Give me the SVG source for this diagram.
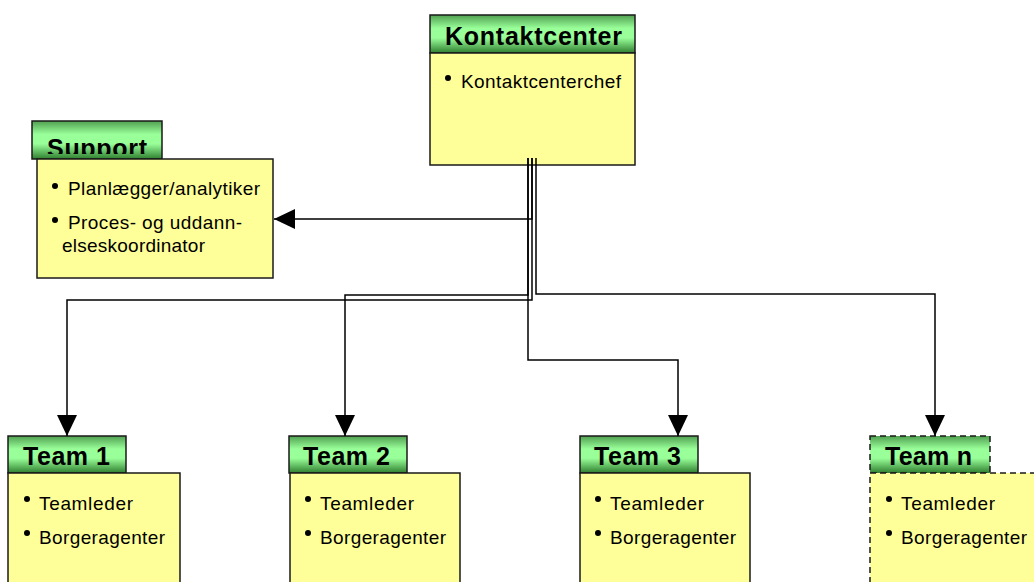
<svg xmlns="http://www.w3.org/2000/svg" width="1034" height="582" viewBox="0 0 1034 582">
<style>
.hd{stroke:#1a1a1a;stroke-width:1.5;fill:url(#g)}
.bd{stroke:#1a1a1a;stroke-width:1.5;fill:#ffff99}
.dash{stroke-dasharray:6 4}
.ht{font-family:"Liberation Sans",Arial,sans-serif;font-weight:bold;font-size:25px;fill:#000}
.t{font-family:"Liberation Sans",Arial,sans-serif;font-size:19px;fill:#000}
.c{fill:none;stroke:#000;stroke-width:1.5}
</style>
<defs>
<linearGradient id="g" x1="0" y1="0" x2="0" y2="1">
<stop offset="0" stop-color="#50a050"/>
<stop offset="0.35" stop-color="#99ff99"/>
<stop offset="0.6" stop-color="#99ff99"/>
<stop offset="1" stop-color="#2f7f2f"/>
</linearGradient>
<marker id="ah" markerUnits="userSpaceOnUse" markerWidth="21" markerHeight="20" refX="21" refY="10" orient="auto">
<path d="M0,0 L21,10 L0,20 z" fill="#000"/>
</marker>
<clipPath id="sc"><rect x="30" y="119" width="135" height="35"/></clipPath>
</defs>

<g id="kontaktcenter">
<rect class="hd" x="430" y="15" width="205" height="38"/>
<text class="ht" x="445" y="45" textLength="177" font-size="26">Kontaktcenter</text>
<rect class="bd" x="430" y="53" width="205" height="112"/>
<circle cx="448" cy="78" r="3"/>
<text class="t" x="461" y="88" textLength="160">Kontaktcenterchef</text>
</g>

<g id="support">
<rect class="hd" x="32" y="121" width="130" height="38"/>
<text class="ht" x="47" y="157" textLength="100" clip-path="url(#sc)" font-size="26">Support</text>
<rect class="bd" x="37" y="159" width="236" height="119"/>
<circle cx="55" cy="186" r="3"/>
<text class="t" x="68" y="195" textLength="192">Planlægger/analytiker</text>
<circle cx="55" cy="220" r="3"/>
<text class="t" x="68" y="229" textLength="174">Proces- og uddann-</text>
<text class="t" x="62" y="252" textLength="143">elseskoordinator</text>
</g>

<g id="team1">
<rect class="hd" x="8" y="436" width="118" height="37"/>
<text class="ht" x="23" y="465" textLength="87">Team 1</text>
<rect class="bd" x="8" y="473" width="172" height="120"/>
<circle cx="27" cy="499" r="3"/>
<text class="t" x="39" y="510" textLength="94">Teamleder</text>
<circle cx="27" cy="533" r="3"/>
<text class="t" x="39" y="544" textLength="126">Borgeragenter</text>
</g>

<g id="team2">
<rect class="hd" x="289" y="436" width="118" height="37"/>
<text class="ht" x="303" y="465" textLength="87">Team 2</text>
<rect class="bd" x="290" y="473" width="170" height="120"/>
<circle cx="308" cy="499" r="3"/>
<text class="t" x="320" y="510" textLength="94">Teamleder</text>
<circle cx="308" cy="533" r="3"/>
<text class="t" x="320" y="544" textLength="126">Borgeragenter</text>
</g>

<g id="team3">
<rect class="hd" x="580" y="436" width="118" height="37"/>
<text class="ht" x="594" y="465" textLength="87">Team 3</text>
<rect class="bd" x="580" y="473" width="170" height="120"/>
<circle cx="598" cy="499" r="3"/>
<text class="t" x="610" y="510" textLength="94">Teamleder</text>
<circle cx="598" cy="533" r="3"/>
<text class="t" x="610" y="544" textLength="126">Borgeragenter</text>
</g>

<g id="teamn">
<rect class="hd dash" x="870" y="436" width="120" height="37"/>
<text class="ht" x="885" y="465" textLength="87">Team n</text>
<rect class="bd dash" x="870" y="473" width="200" height="120"/>
<circle cx="889" cy="499" r="3"/>
<text class="t" x="901" y="510" textLength="94">Teamleder</text>
<circle cx="889" cy="533" r="3"/>
<text class="t" x="901" y="544" textLength="126">Borgeragenter</text>
</g>

<g id="connectors">
<polyline class="c" points="532,158 532,219 274,219" marker-end="url(#ah)"/>
<polyline class="c" points="532,158 532,300 67,300 67,436" marker-end="url(#ah)"/>
<polyline class="c" points="528,158 528,295 345,295 345,436" marker-end="url(#ah)"/>
<polyline class="c" points="528,158 528,360 678,360 678,436" marker-end="url(#ah)"/>
<polyline class="c" points="536,158 536,294 935,294 935,436" marker-end="url(#ah)"/>
</g>
</svg>
